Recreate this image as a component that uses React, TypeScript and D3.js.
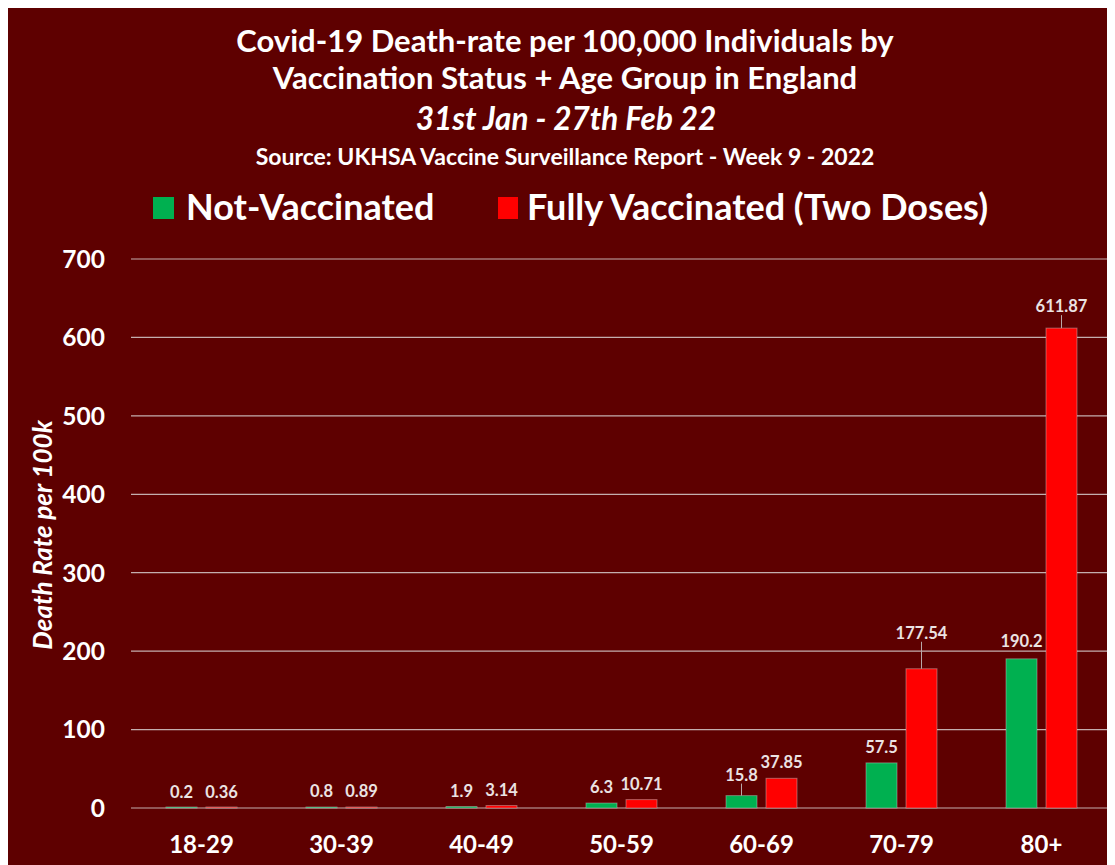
import React from "react";
import * as d3 from "d3";

const categories = ["18-29", "30-39", "40-49", "50-59", "60-69", "70-79", "80+"];
const seriesNames = ["Not-Vaccinated", "Fully Vaccinated (Two Doses)"];
const notVaccinated = [0.2, 0.8, 1.9, 6.3, 15.8, 57.5, 190.2];
const fullyVaccinated = [0.36, 0.89, 3.14, 10.71, 37.85, 177.54, 611.87];
const notVaccLabels = ["0.2", "0.8", "1.9", "6.3", "15.8", "57.5", "190.2"];
const fullyVaccLabels = ["0.36", "0.89", "3.14", "10.71", "37.85", "177.54", "611.87"];
const yTicks = [0, 100, 200, 300, 400, 500, 600, 700];
const titleLines = [
  "Covid-19 Death-rate per 100,000 Individuals by",
  "Vaccination Status + Age Group in England",
];
const subtitle = "31st Jan - 27th Feb 22";
const source = "Source: UKHSA Vaccine Surveillance Report - Week 9 - 2022";
const yAxisTitle = "Death Rate per 100k";

// styling (label lift in px above bar top, leader line when lifted)
const seriesColors = ["#00B050", "#FF0000"];
const labelLift = [
  [10, 10, 10, 10, 15, 10, 12],
  [10, 10, 10, 10, 10, 30, 16],
];

const BG = "#5E0000";
const FONT = "Lato, 'Open Sans', sans-serif";

export default function App() {
  const W = 1115;
  const H = 865;
  const y = d3.scaleLinear().domain([0, 700]).range([808, 259]);
  const x = d3.scaleBand<string>().domain(categories).range([131.5, 1111.5]).paddingInner(0).paddingOuter(0);
  const bw = x.bandwidth();
  const xs = d3
    .scaleBand<string>()
    .domain(seriesNames)
    .range([bw / 2 - 35.5, bw / 2 + 35.5])
    .paddingInner(0.225)
    .paddingOuter(0);
  const series = [notVaccinated, fullyVaccinated];
  const labels = [notVaccLabels, fullyVaccLabels];

  return (
    <svg width={W - 8} height={H - 8} style={{ display: "block" }}>
      <g transform="translate(-8,-8)">
        <rect x={7} y={7} width={W} height={H} fill={BG} stroke="#b0a0a0" strokeWidth={1} />
        {titleLines.map((t, i) => (
          <text key={i} x={565} y={52 + i * 37} textAnchor="middle" fill="#fff" fontFamily={FONT} fontWeight={700} fontSize={31}>
            {t}
          </text>
        ))}
        <text x={566} y={130} textAnchor="middle" fill="#fff" fontFamily={FONT} fontWeight={700} fontStyle="italic" fontSize={31.5}>
          {subtitle}
        </text>
        <text x={565} y={165} textAnchor="middle" fill="#fff" fontFamily={FONT} fontWeight={700} fontSize={23}>
          {source}
        </text>
        {/* legend */}
        <rect x={153} y={197} width={21} height={22} fill={seriesColors[0]} />
        <text x={186} y={220} fill="#fff" fontFamily={FONT} fontWeight={700} fontSize={36}>
          {seriesNames[0]}
        </text>
        <rect x={498} y={197} width={20} height={22} fill={seriesColors[1]} />
        <text x={527} y={220} fill="#fff" fontFamily={FONT} fontWeight={700} fontSize={36}>
          {seriesNames[1]}
        </text>
        {/* gridlines and y ticks */}
        {yTicks.map((t) => (
          <g key={t}>
            <line x1={131} x2={1113} y1={y(t)} y2={y(t)} stroke="#c4aeae" strokeWidth={1.2} />
            <text x={105} y={y(t)} dy="0.36em" textAnchor="end" fill="#fff" fontFamily={FONT} fontWeight={700} fontSize={24.5}>
              {t}
            </text>
          </g>
        ))}
        <text
          transform={`translate(52,535) rotate(-90)`}
          textAnchor="middle"
          fill="#fff"
          fontFamily={FONT}
          fontWeight={700}
          fontStyle="italic"
          fontSize={26}
        >
          {yAxisTitle}
        </text>
        {/* bars */}
        {categories.map((c, ci) => (
          <g key={c} transform={`translate(${x(c)},0)`}>
            {series.map((s, si) => {
              const bx = xs(seriesNames[si])!;
              const top = y(s[ci]);
              const h = Math.max(y(0) - top, 1);
              const cx = bx + xs.bandwidth() / 2;
              const lift = labelLift[si][ci];
              return (
                <g key={si}>
                  <rect
                    x={bx}
                    y={y(0) - h}
                    width={xs.bandwidth()}
                    height={h}
                    fill={seriesColors[si]}
                    stroke="rgba(200,200,200,0.45)"
                    strokeWidth={1}
                  />
                  {lift > 12 && (
                    <line x1={cx} x2={cx} y1={top - lift + 3} y2={top} stroke="#b8a8a8" strokeWidth={1} />
                  )}
                  <text
                    x={cx}
                    y={top - lift}
                    textAnchor="middle"
                    fill="#ebe3e3"
                    fontFamily={FONT}
                    fontWeight={700}
                    fontSize={16.5}
                  >
                    {labels[si][ci]}
                  </text>
                </g>
              );
            })}
            <text x={bw / 2} y={853} textAnchor="middle" fill="#fff" fontFamily={FONT} fontWeight={700} fontSize={24}>
              {c}
            </text>
          </g>
        ))}
      </g>
    </svg>
  );
}
